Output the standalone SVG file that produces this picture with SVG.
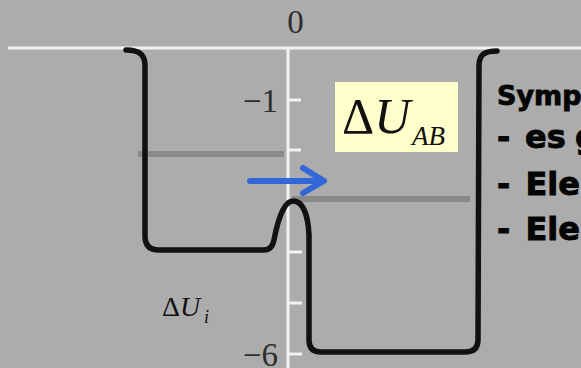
<svg xmlns="http://www.w3.org/2000/svg" width="581" height="368" viewBox="0 0 581 368">
<style>
.ax{stroke:#f2f2f2;stroke-width:3;fill:none}
.lvl{stroke:#8a8a8a;stroke-width:6;fill:none}
.num{font-family:"Liberation Serif",serif;font-size:33px;fill:#2e2e2e}
.mth{font-family:"Liberation Serif",serif;fill:#111}
.bul{font-family:"DejaVu Sans",sans-serif;font-weight:bold;fill:#050505;stroke:#050505;stroke-width:0.9;word-spacing:4px}
</style>
<rect width="581" height="368" fill="#acacac"/>
<g id="axes">
<path class="ax" d="M8 48 H581 M288 48 V368"/>
<path class="ax" d="M288 100 H301 M288 150 H301 M288 252 H302 M288 303 H302 M288 354 H302"/>
</g>
<g id="labels">
<text class="num" x="295.5" y="33" text-anchor="middle">0</text>
<text class="num" x="278" y="112" text-anchor="end">−1</text>
<text class="num" x="278" y="366" text-anchor="end">−6</text>
<text class="mth" x="162" y="316" font-size="28">Δ<tspan font-style="italic">U</tspan></text>
<text class="mth" x="204" y="323" font-size="18" font-style="italic">i</text>
</g>
<g id="levels">
<line class="lvl" x1="138" y1="154" x2="284" y2="154"/>
<line class="lvl" x1="292" y1="199" x2="470" y2="199" stroke-width="5"/>
</g>
<g id="potential">
<path d="M126 50 C140 50 145 55 145 66 L145 236 Q145 250 159 250 L264 250 Q272 250 274 240 C277 224 283 201 293 201 C303 201 308 215 309 235 L309 340 Q309 352 321 352 L465 352 Q478 352 478 340 L479 66 C479 54 485 51 497 51" fill="none" stroke="#111" stroke-width="5.5" stroke-linejoin="round" stroke-linecap="round"/>
</g>
<g id="dUAB">
<rect x="335" y="82" width="123" height="70" fill="#ffffcc"/>
<text class="mth" x="342" y="133" font-size="50">Δ<tspan font-style="italic">U</tspan></text>
<text class="mth" x="412" y="145" font-size="27" font-style="italic">AB</text>
</g>
<g id="connectors">
<path d="M250 181 H322 M303 168 L324 181 L303 193" fill="none" stroke="#3366d6" stroke-width="6" stroke-linecap="round" stroke-linejoin="round"/>
</g>
<g id="notes">
<text class="bul" x="497" y="105" font-size="27">Symp</text>
<text class="bul" y="148" font-size="32"><tspan x="497">-</tspan> <tspan x="525">es</tspan> <tspan x="575">g</tspan></text>
<text class="bul" x="497" y="195" font-size="32">- Ele</text>
<text class="bul" x="497" y="240" font-size="32">- Ele</text>
</g>
</svg>
